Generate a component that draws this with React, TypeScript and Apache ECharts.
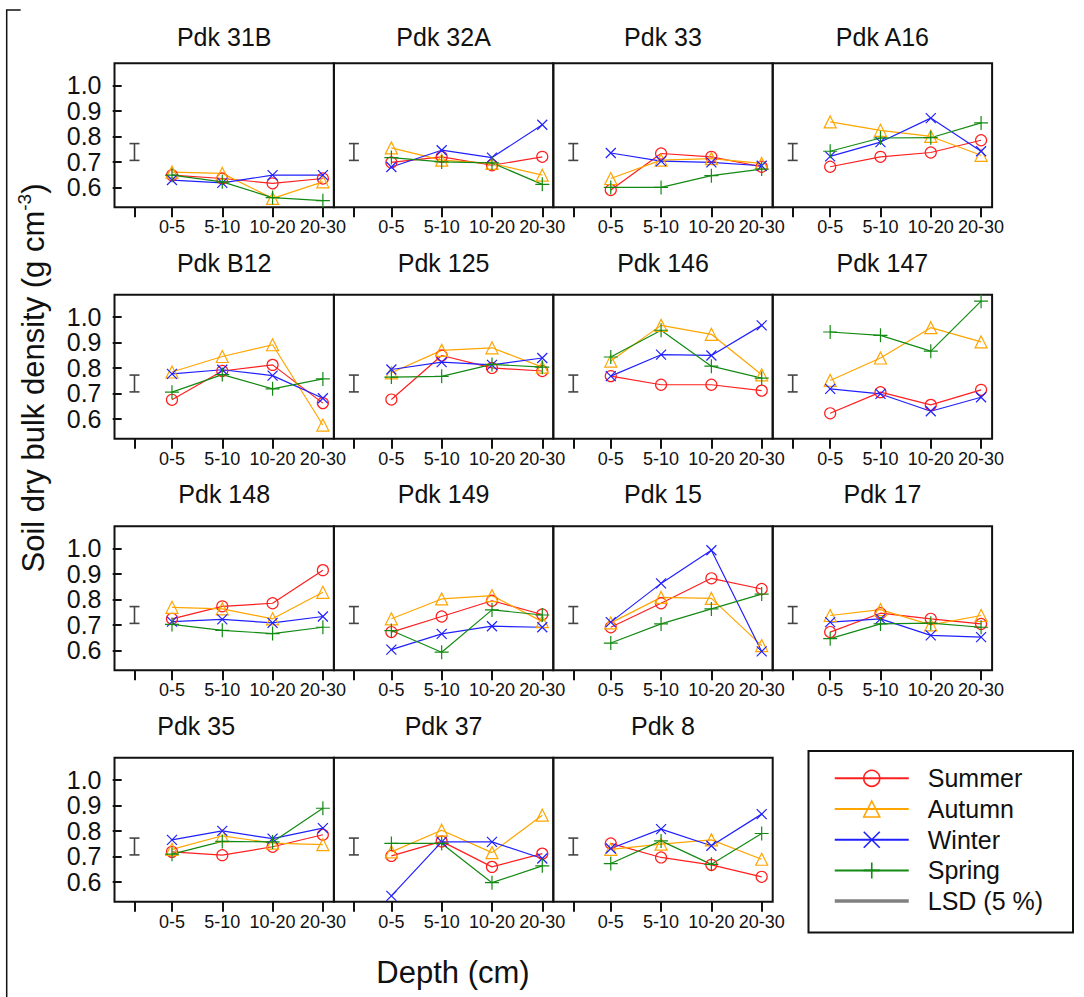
import React, { useEffect, useRef } from 'react';
import * as echarts from 'echarts';

// ---------- data ----------
const DEPTHS = ['0-5', '5-10', '10-20', '20-30'];
const PANELS = [
  'Pdk 31B', 'Pdk 32A', 'Pdk 33', 'Pdk A16',
  'Pdk B12', 'Pdk 125', 'Pdk 146', 'Pdk 147',
  'Pdk 148', 'Pdk 149', 'Pdk 15', 'Pdk 17',
  'Pdk 35', 'Pdk 37', 'Pdk 8',
];
const SUMMER = [
  [0.648, 0.635, 0.616, 0.635],
  [0.698, 0.72, 0.687, 0.72],
  [0.59, 0.733, 0.72, 0.681],
  [0.681, 0.72, 0.737, 0.785],
  [0.675, 0.788, 0.812, 0.662],
  [0.676, 0.849, 0.8, 0.788],
  [0.768, 0.734, 0.734, 0.711],
  [0.622, 0.705, 0.655, 0.714],
  [0.724, 0.773, 0.785, 0.915],
  [0.672, 0.733, 0.795, 0.741],
  [0.691, 0.785, 0.883, 0.841],
  [0.672, 0.746, 0.724, 0.704],
  [0.718, 0.705, 0.738, 0.785],
  [0.702, 0.759, 0.659, 0.711],
  [0.751, 0.696, 0.667, 0.62],
];
const AUTUMN = [
  [0.66, 0.655, 0.557, 0.622],
  [0.755, 0.707, 0.694, 0.648],
  [0.635, 0.707, 0.713, 0.694],
  [0.857, 0.824, 0.8, 0.726],
  [0.784, 0.845, 0.891, 0.576],
  [0.781, 0.869, 0.879, 0.803],
  [0.827, 0.967, 0.932, 0.773],
  [0.751, 0.839, 0.958, 0.902],
  [0.769, 0.763, 0.724, 0.828],
  [0.724, 0.802, 0.815, 0.713],
  [0.708, 0.808, 0.804, 0.619],
  [0.737, 0.76, 0.7, 0.737],
  [0.728, 0.781, 0.752, 0.746],
  [0.718, 0.803, 0.715, 0.862],
  [0.728, 0.748, 0.765, 0.689],
];
const WINTER = [
  [0.629, 0.618, 0.648, 0.648],
  [0.68, 0.746, 0.717, 0.846],
  [0.735, 0.703, 0.698, 0.685],
  [0.722, 0.778, 0.872, 0.742],
  [0.777, 0.793, 0.77, 0.681],
  [0.794, 0.823, 0.812, 0.839],
  [0.768, 0.852, 0.849, 0.967],
  [0.718, 0.698, 0.63, 0.685],
  [0.713, 0.722, 0.708, 0.733],
  [0.603, 0.665, 0.695, 0.691],
  [0.711, 0.863, 0.993, 0.596],
  [0.711, 0.724, 0.659, 0.652],
  [0.765, 0.8, 0.77, 0.811],
  [0.545, 0.757, 0.757, 0.692],
  [0.731, 0.807, 0.742, 0.866],
];
const SPRING = [
  [0.648, 0.622, 0.56, 0.548],
  [0.717, 0.7, 0.696, 0.612],
  [0.6, 0.6, 0.646, 0.672],
  [0.742, 0.794, 0.795, 0.853],
  [0.705, 0.774, 0.718, 0.757],
  [0.764, 0.767, 0.814, 0.803],
  [0.843, 0.948, 0.807, 0.76],
  [0.941, 0.928, 0.866, 1.062],
  [0.702, 0.679, 0.666, 0.691],
  [0.678, 0.593, 0.759, 0.739],
  [0.629, 0.704, 0.763, 0.821],
  [0.646, 0.704, 0.707, 0.691],
  [0.709, 0.759, 0.757, 0.889],
  [0.751, 0.751, 0.597, 0.663],
  [0.672, 0.761, 0.669, 0.79],
];
const LSD_RANGE = [0.706, 0.772];
const Y_TICKS = [0.6, 0.7, 0.8, 0.9, 1.0];
const LSD_NAME = 'LSD (5 %)';
const Y_TITLE_MAIN = 'Soil dry bulk density (g cm';
const Y_TITLE_SUP = '-3';
const X_TITLE = 'Depth (cm)';

// ---------- layout / style ----------
const FONT = '"Liberation Sans", Arial, Helvetica, sans-serif';
const COLS = 4;
const GRID_LEFT0 = 114.5;
const COL_W = 219.4;
const ROW_TOP0 = 63.3;
const ROW_STEP = 231.5;
const GRID_H = 144;
const X_MIN = -0.1425;
const X_MAX = 4.219;
const LSD_X = 0.255;
const Y_MIN = 0.522;
const Y_MAX = 1.087;
const TITLE_SHIFT: Record<string, number> = { 'Pdk 35': -28 };

const SEASONS = [
  { name: 'Summer', values: SUMMER, color: '#ff1f1f', symbol: 'circle', size: 11 },
  { name: 'Autumn', values: AUTUMN, color: '#ffa500', symbol: 'triangle', size: 12 },
  { name: 'Winter', values: WINTER, color: '#2020ff', symbol: 'path://M0,0L10,10M10,0L0,10', size: 10 },
  { name: 'Spring', values: SPRING, color: '#138a13', symbol: 'path://M5,0L5,10M0,5L10,5', size: 14 },
];

function buildOption() {
  const grid: any[] = [];
  const xAxis: any[] = [];
  const yAxis: any[] = [];
  const series: any[] = [];
  const graphic: any[] = [];

  PANELS.forEach((name, i) => {
    const c = i % COLS;
    const r = Math.floor(i / COLS);
    const left = GRID_LEFT0 + c * COL_W;
    const top = ROW_TOP0 + r * ROW_STEP;
    grid.push({
      left, top, width: COL_W, height: GRID_H,
      show: true, borderColor: '#111', borderWidth: 2, backgroundColor: 'transparent',
    });
    xAxis.push({
      type: 'value', gridIndex: i, min: X_MIN, max: X_MAX,
      axisLine: { show: false },
      splitLine: { show: false },
      axisTick: {
        show: true, customValues: [LSD_X, 1, 2, 3, 4], length: 10, inside: false,
        lineStyle: { color: '#111', width: 2 },
      },
      axisLabel: {
        show: true, customValues: [1, 2, 3, 4],
        formatter: (v: number) => DEPTHS[Math.round(v) - 1] ?? '',
        fontSize: 18, color: '#111', fontFamily: FONT, margin: 11,
      },
    });
    const first = c === 0;
    yAxis.push({
      type: 'value', gridIndex: i, min: Y_MIN, max: Y_MAX,
      axisLine: { show: false },
      splitLine: { show: false },
      axisTick: {
        show: first, customValues: Y_TICKS, length: 9, inside: false,
        lineStyle: { color: '#111', width: 2 },
      },
      axisLabel: {
        show: first, customValues: Y_TICKS,
        formatter: (v: number) => v.toFixed(1),
        fontSize: 25, color: '#111', fontFamily: FONT, margin: 13,
      },
    });
    SEASONS.forEach((s) => {
      series.push({
        type: 'line', name: s.name, xAxisIndex: i, yAxisIndex: i,
        data: s.values[i].map((v, k) => [k + 1, v]),
        symbol: s.symbol, symbolSize: s.size, showSymbol: true,
        lineStyle: { color: s.color, width: 1.2 },
        itemStyle: { color: 'none', borderColor: s.color, borderWidth: 1.2 },
        emphasis: { disabled: true },
        z: 3,
      });
    });
    series.push({
      type: 'custom', name: 'lsd-bar', xAxisIndex: i, yAxisIndex: i,
      data: [[LSD_X, LSD_RANGE[0], LSD_RANGE[1]]],
      encode: { x: 0, y: [1, 2] },
      renderItem: (_p: any, api: any) => {
        const x = api.value(0);
        const p1 = api.coord([x, api.value(1)]);
        const p2 = api.coord([x, api.value(2)]);
        const style = { stroke: '#444', lineWidth: 1.6 };
        return {
          type: 'group',
          children: [
            { type: 'line', shape: { x1: p1[0], y1: p1[1], x2: p2[0], y2: p2[1] }, style },
            { type: 'line', shape: { x1: p1[0] - 5, y1: p1[1], x2: p1[0] + 5, y2: p1[1] }, style },
            { type: 'line', shape: { x1: p2[0] - 5, y1: p2[1], x2: p2[0] + 5, y2: p2[1] }, style },
          ],
        };
      },
      silent: true,
      z: 2,
    });

    graphic.push({
      type: 'text',
      x: left + COL_W / 2 + (TITLE_SHIFT[name] || 0),
      y: r === 0 ? 37 : top - 32,
      style: {
        text: name, fontSize: 25, fontFamily: FONT, fill: '#111',
        textAlign: 'center', textVerticalAlign: 'middle',
      },
    });
  });

  // legend-only series for the LSD line
  series.push({
    type: 'line', name: LSD_NAME, xAxisIndex: 0, yAxisIndex: 0, data: [],
    symbol: 'none', lineStyle: { color: '#808080', width: 3.5 },
    itemStyle: { color: 'none', borderColor: 'none', borderWidth: 0 },
  });

  graphic.push(
    {
      type: 'text', x: 32, y: 378, rotation: Math.PI / 2,
      style: {
        text: `{n|${Y_TITLE_MAIN}}{s|${Y_TITLE_SUP}}{n|)}`,
        fontFamily: FONT, fill: '#111',
        textAlign: 'center', textVerticalAlign: 'middle',
        rich: {
          n: { fontSize: 31, fontFamily: FONT, fill: '#111', lineHeight: 34, verticalAlign: 'bottom' },
          s: { fontSize: 19, fontFamily: FONT, fill: '#111', lineHeight: 20, verticalAlign: 'top' },
        },
      },
    },
    {
      type: 'text', x: 453, y: 972,
      style: {
        text: X_TITLE, fontSize: 31, fontFamily: FONT, fill: '#111',
        textAlign: 'center', textVerticalAlign: 'middle',
      },
    },
    {
      type: 'rect', shape: { x: 808.5, y: 751, width: 264.5, height: 181.5 },
      style: { fill: 'none', stroke: '#111', lineWidth: 2 },
      z: 10,
    },
    {
      type: 'polyline', shape: { points: [[20.7, 10], [6.7, 10], [6.7, 1000]] },
      style: { fill: 'none', stroke: '#111', lineWidth: 1.5 },
    },
  );

  const legendData: any[] = SEASONS.map((s) => ({
    name: s.name,
    lineStyle: { width: 2, color: s.color },
    itemStyle: { color: 'none', borderColor: s.color, borderWidth: 1.6 },
  }));
  legendData.push({
    name: LSD_NAME,
    lineStyle: { width: 3.5, color: '#808080' },
    itemStyle: { color: 'none', borderColor: 'none', borderWidth: 0, opacity: 0 },
  });

  return {
    animation: false,
    backgroundColor: '#fff',
    grid, xAxis, yAxis, series, graphic,
    legend: {
      data: legendData,
      orient: 'vertical', left: 833, top: 765.8,
      itemWidth: 74, itemHeight: 20, itemGap: 5.7, padding: 0,
      selectedMode: false,
      textStyle: { fontSize: 25, color: '#111', fontFamily: FONT, lineHeight: 20, padding: [0, 0, 0, 14] },
    },
  };
}

export default function App() {
  const ref = useRef<HTMLDivElement>(null);
  useEffect(() => {
    if (!ref.current) return;
    const chart = echarts.init(ref.current, undefined, { renderer: 'svg' });
    chart.setOption(buildOption() as any);
    return () => chart.dispose();
  }, []);
  return (
    <div
      ref={ref}
      style={{ position: 'absolute', left: 0, top: 0, width: 1084, height: 997, background: '#fff' }}
    />
  );
}
